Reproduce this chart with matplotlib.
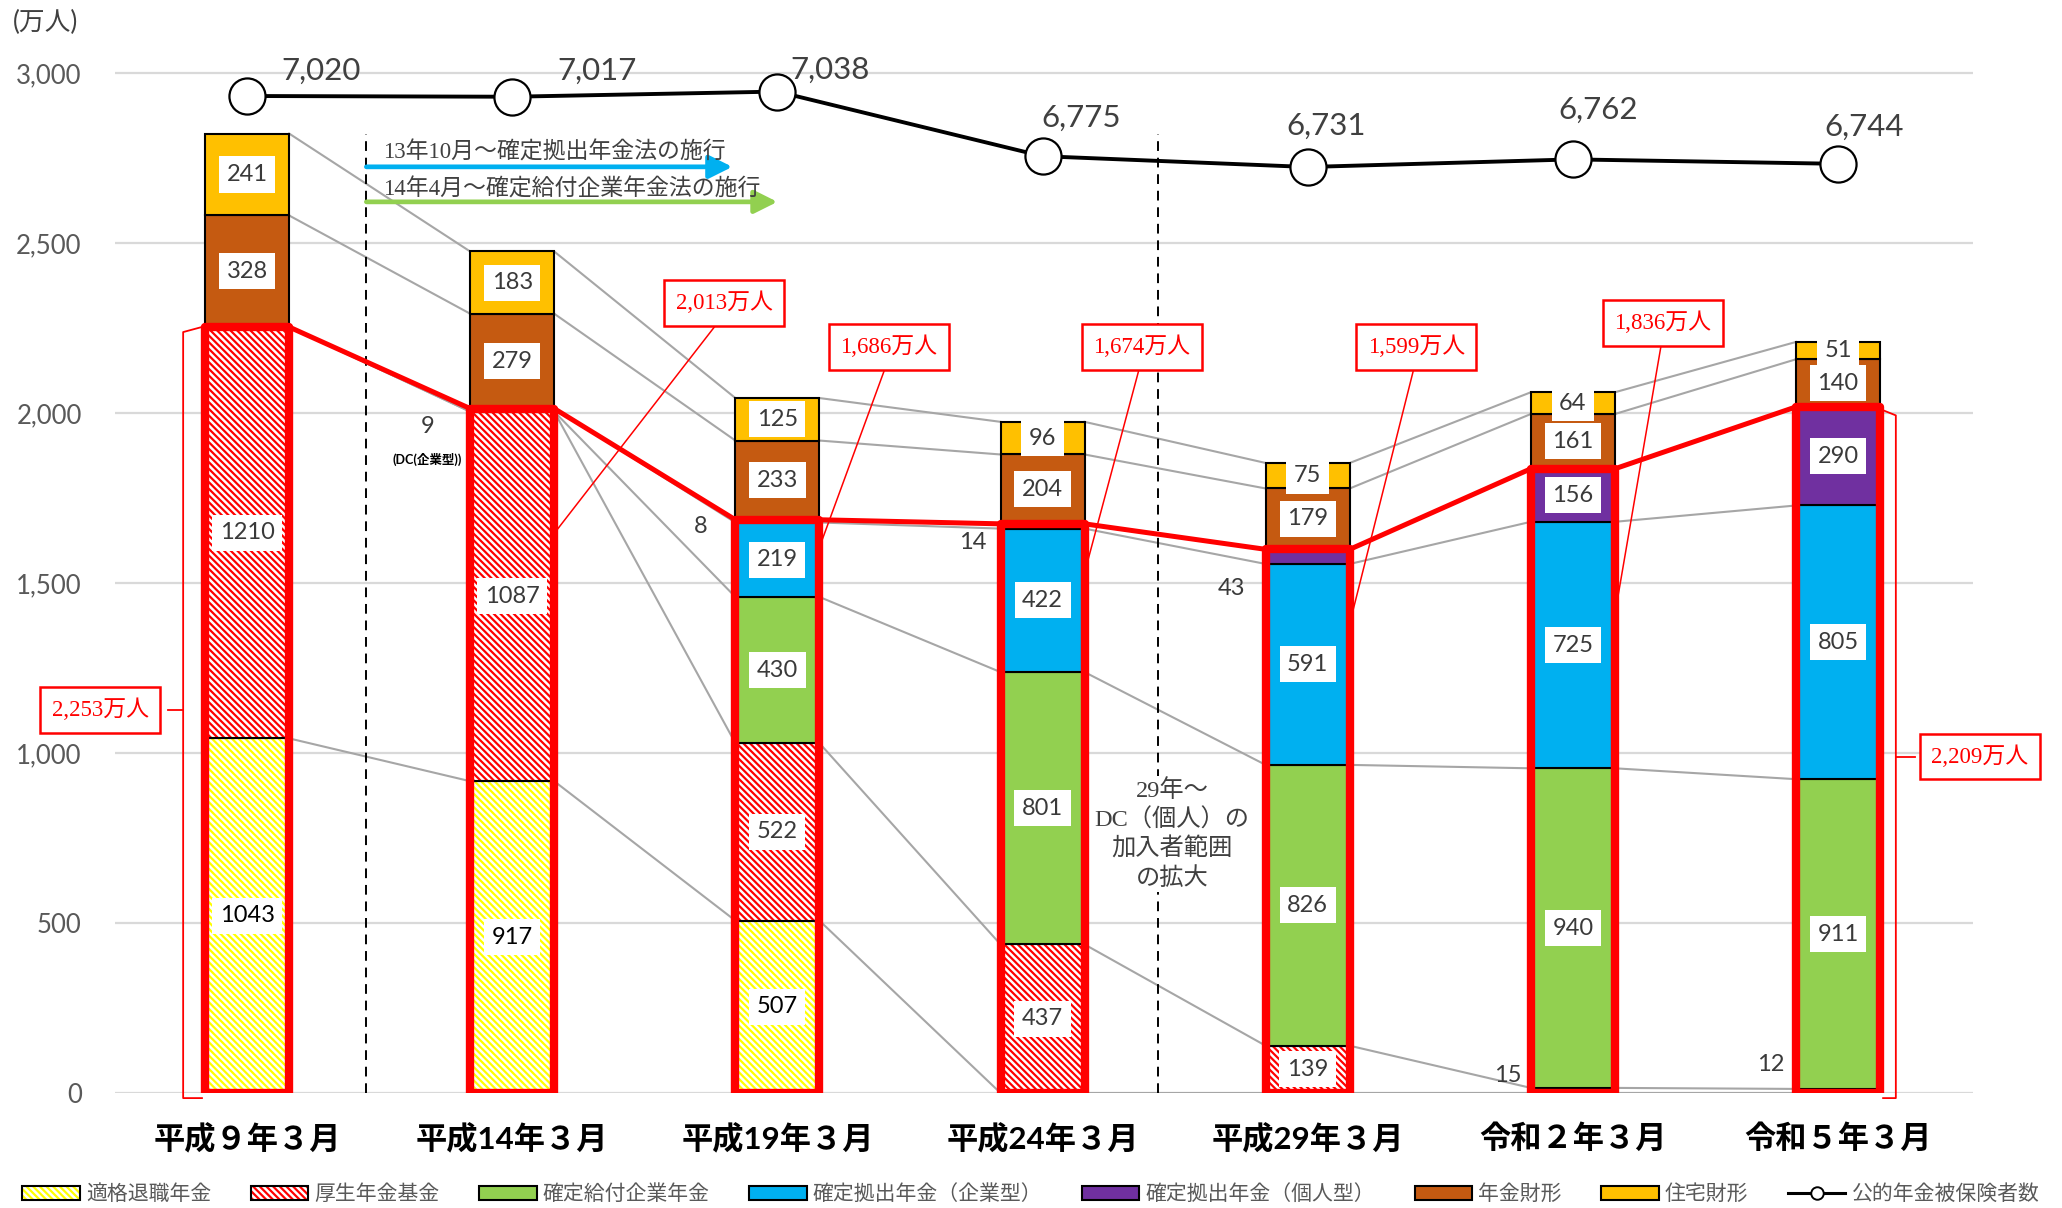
import matplotlib
matplotlib.use("Agg")
import matplotlib.pyplot as plt
from matplotlib.patches import Patch
from matplotlib.lines import Line2D
from matplotlib.ticker import FuncFormatter

plt.rcParams["font.family"] = ["Lato", "Noto Sans CJK JP"]
plt.rcParams["hatch.linewidth"] = 1.6

SERIF = ["Liberation Serif", "Noto Sans CJK JP"]
HATCH = "\\\\\\\\\\"

# --- data (万人) ---
periods = ["平成９年３月", "平成14年３月", "平成19年３月", "平成24年３月",
           "平成29年３月", "令和２年３月", "令和５年３月"]

tekikaku = [1043, 917, 507, 0, 0, 0, 0]          # 適格退職年金
kousei_kikin = [1210, 1087, 522, 437, 139, 15, 12]  # 厚生年金基金
db = [0, 0, 430, 801, 826, 940, 911]             # 確定給付企業年金
dc_kigyou = [0, 9, 219, 422, 591, 725, 805]      # 確定拠出年金（企業型）
dc_kojin = [0, 0, 8, 14, 43, 156, 290]           # 確定拠出年金（個人型）
nenkin_zaikei = [328, 279, 233, 204, 179, 161, 140]
jutaku_zaikei = [241, 183, 125, 96, 75, 64, 51]

insured = [7020, 7017, 7038, 6775, 6731, 6762, 6744]  # 公的年金被保険者数
pension_totals = [2253, 2013, 1686, 1674, 1599, 1836, 2209]

series = [
    ("適格退職年金", tekikaku, "#FFFF00", True),
    ("厚生年金基金", kousei_kikin, "#FF0000", True),
    ("確定給付企業年金", db, "#92D050", False),
    ("確定拠出年金（企業型）", dc_kigyou, "#00B0F0", False),
    ("確定拠出年金（個人型）", dc_kojin, "#7030A0", False),
    ("年金財形", nenkin_zaikei, "#C55A11", False),
    ("住宅財形", jutaku_zaikei, "#FFC000", False),
]

n = len(periods)
x = list(range(n))
w = 0.317

fig = plt.figure(figsize=(20.62, 12.08), dpi=100)
ax = fig.add_axes([115 / 2062, 115 / 1208, 1858 / 2062, 1054 / 1208])
ax.set_xlim(-0.498, 6.509)
ax.set_ylim(0, 3100)
for s in ax.spines.values():
    s.set_visible(False)
ax.set_yticks(range(0, 3001, 500))
ax.yaxis.set_major_formatter(FuncFormatter(lambda v, p: f"{int(v):,}"))
ax.tick_params(axis="y", length=0, pad=24, labelsize=18.5, labelcolor="#595959")
ax.yaxis.grid(True, color="#D9D9D9", lw=1.6)
ax.set_axisbelow(True)
ax.set_xticks(x)
ax.set_xticklabels(periods, fontsize=22.5, fontweight="bold", color="black")
ax.tick_params(axis="x", length=0, pad=22)

# cumulative tops of each series
bottoms, tops = [], []
run = [0] * n
for _, vals, _, _ in series:
    bottoms.append(run[:])
    run = [a + b for a, b in zip(run, vals)]
    tops.append(run[:])

# series lines between neighbouring columns
for k in range(len(series)):
    for i in range(n - 1):
        ax.plot([i + w / 2, i + 1 - w / 2], [tops[k][i], tops[k][i + 1]],
                color="#A6A6A6", lw=1.5, zorder=1)

# stacked columns
for k, (name, vals, color, hatched) in enumerate(series):
    for i, v in enumerate(vals):
        if v <= 0:
            continue
        b = bottoms[k][i]
        if hatched:
            ax.bar(i, v, w, bottom=b, facecolor="white", edgecolor=color,
                   hatch=HATCH, lw=0, zorder=2)
            ax.bar(i, v, w, bottom=b, fill=False, edgecolor="black", lw=1.5, zorder=2)
        else:
            ax.bar(i, v, w, bottom=b, facecolor=color, edgecolor="black", lw=1.5, zorder=2)
        if v >= 50:
            ax.text(i, b + v / 2, str(v), ha="center", va="center", fontsize=17,
                    color="black" if k == 0 else "#3A3A3A", zorder=7,
                    bbox=dict(boxstyle="square,pad=0.32", fc="white", ec="none"))

# red frame around the pension schemes and the line joining their totals
frame_tops = tops[4]
ax.bar(x, frame_tops, w, fill=False, edgecolor="#FF0000", lw=6,
       joinstyle="round", zorder=4)
px, py = [], []
for i, t in enumerate(frame_tops):
    px += [i - w / 2, i + w / 2]
    py += [t, t]
ax.plot(px, py, color="#FF0000", lw=3.6, zorder=5, solid_joinstyle="round")

# small values written beside the columns
small_labels = [(dc_kigyou[1], 0.68, 1959), (dc_kojin[2], 1.712, 1665),
                (dc_kojin[3], 2.738, 1618), (dc_kojin[4], 3.714, 1485),
                (kousei_kikin[5], 4.755, 50), (kousei_kikin[6], 5.747, 85)]
for v, lx, ly in small_labels:
    ax.text(lx, ly, str(v), ha="center", va="center", fontsize=17, color="#3A3A3A")
ax.text(0.68, 1862, "(DC(企業型))", ha="center", va="center", fontsize=9,
        fontweight="bold", color="black")

# law changes
for xv in (0.45, 3.435):
    ax.plot([xv, xv], [0, 2820], color="black", lw=1.4, dashes=(5, 3.5), zorder=1)
ax.annotate("", xy=(1.83, 2724), xytext=(0.45, 2724),
            arrowprops=dict(arrowstyle="-|>,head_length=0.7,head_width=0.35",
                            color="#00B0F0", lw=3.4, shrinkA=0, shrinkB=0,
                            mutation_scale=20))
ax.annotate("", xy=(2.0, 2621), xytext=(0.45, 2621),
            arrowprops=dict(arrowstyle="-|>,head_length=0.7,head_width=0.35",
                            color="#92D050", lw=3.4, shrinkA=0, shrinkB=0,
                            mutation_scale=20))
ax.text(0.513, 2765, "13年10月～確定拠出年金法の施行", ha="left", va="center",
        fontsize=16.5, family=SERIF, color="#404040")
ax.text(0.513, 2656, "14年4月～確定給付企業年金法の施行", ha="left", va="center",
        fontsize=16.5, family=SERIF, color="#404040")
ax.text(3.488, 761, "29年～\nDC（個人）の\n加入者範囲\nの拡大", ha="center",
        va="center", fontsize=17.5, family=SERIF, color="#404040", linespacing=1.35,
        zorder=3, bbox=dict(boxstyle="square,pad=0.1", fc="white", ec="none"))

# callouts for the totals
callout_box = dict(boxstyle="square,pad=0.5", fc="white", ec="#FF0000", lw=1.8)
callouts = [(1, (1.80, 2324), 1656), (2, (2.42, 2194), 1626),
            (3, (3.375, 2194), 1559), (4, (4.41, 2194), 1412),
            (5, (5.34, 2265), 1453)]
for i, pos, tip_y in callouts:
    ax.annotate(f"{pension_totals[i]:,}万人", xy=(i + w / 2 + 0.01, tip_y), xytext=pos,
                ha="center", va="center", fontsize=16.5, family=SERIF,
                color="#FF0000", bbox=callout_box, zorder=8, annotation_clip=False,
                arrowprops=dict(arrowstyle="-", color="#FF0000", lw=1.1,
                                shrinkA=0, shrinkB=0, relpos=(0.5, 0)))

# brackets for the first and the last column
xb = -0.241
mid = frame_tops[0] / 2
ax.plot([-0.17, xb, xb, -0.17], [frame_tops[0], frame_tops[0] - 15, -15, -15],
        color="#FF0000", lw=1.3, clip_on=False, zorder=3)
ax.plot([xb, -0.30], [mid, mid], color="#FF0000", lw=1.3, clip_on=False)
ax.text(-0.554, mid, f"{pension_totals[0]:,}万人", ha="center", va="center",
        fontsize=16.5, family=SERIF, color="#FF0000", bbox=callout_box, zorder=8)

xb = 6.218
mid = frame_tops[6] / 2 - 20
ax.plot([6.17, xb, xb, 6.17], [frame_tops[6] - 10, frame_tops[6] - 25, -15, -15],
        color="#FF0000", lw=1.3, clip_on=False, zorder=3)
ax.plot([xb, 6.29], [mid, mid], color="#FF0000", lw=1.3, clip_on=False)
ax.text(6.535, mid, f"{pension_totals[6]:,}万人", ha="center", va="center",
        fontsize=16.5, family=SERIF, color="#FF0000", bbox=callout_box, zorder=8,
        clip_on=False)

# 公的年金被保険者数 on its own scale
ax2 = ax.twinx()
ax2.set_ylim(2962, 7252)
ax2.axis("off")
ax2.plot(x, insured, color="black", lw=2.8, marker="o", ms=26,
         mfc="white", mec="black", mew=1.6, zorder=5)
label_offsets = [(53, 18), (61, 19), (38, 16), (28, 28), (13, 30), (18, 36), (19, 27)]
for i, v in enumerate(insured):
    ax2.annotate(f"{v:,}", (i, v), xytext=label_offsets[i], textcoords="offset points",
                 ha="center", va="center", fontsize=22.5, color="#404040")

fig.text(13 / 2062, 1 - 22 / 1208, "(万人)", ha="left", va="center",
         fontsize=18.5, color="#404040")

# legend
handles = []
for name, vals, color, hatched in series:
    if hatched:
        handles.append((Patch(facecolor="white", edgecolor=color, hatch=HATCH, lw=0),
                        Patch(fill=False, edgecolor="black", lw=1.5)))
    else:
        handles.append(Patch(facecolor=color, edgecolor="black", lw=1.5))
handles.append(Line2D([], [], color="black", lw=2.2, marker="o", ms=9,
                      mfc="white", mec="black", mew=1.4))
labels = [s[0] for s in series] + ["公的年金被保険者数"]
fig.legend(handles, labels, loc="center", bbox_to_anchor=(0.5, 14 / 1208), ncol=8,
           frameon=False, fontsize=15, handlelength=2.75, handleheight=0.65,
           handletextpad=0.3, columnspacing=1.9, labelcolor="#595959")

fig.savefig("out.png", dpi=100)
